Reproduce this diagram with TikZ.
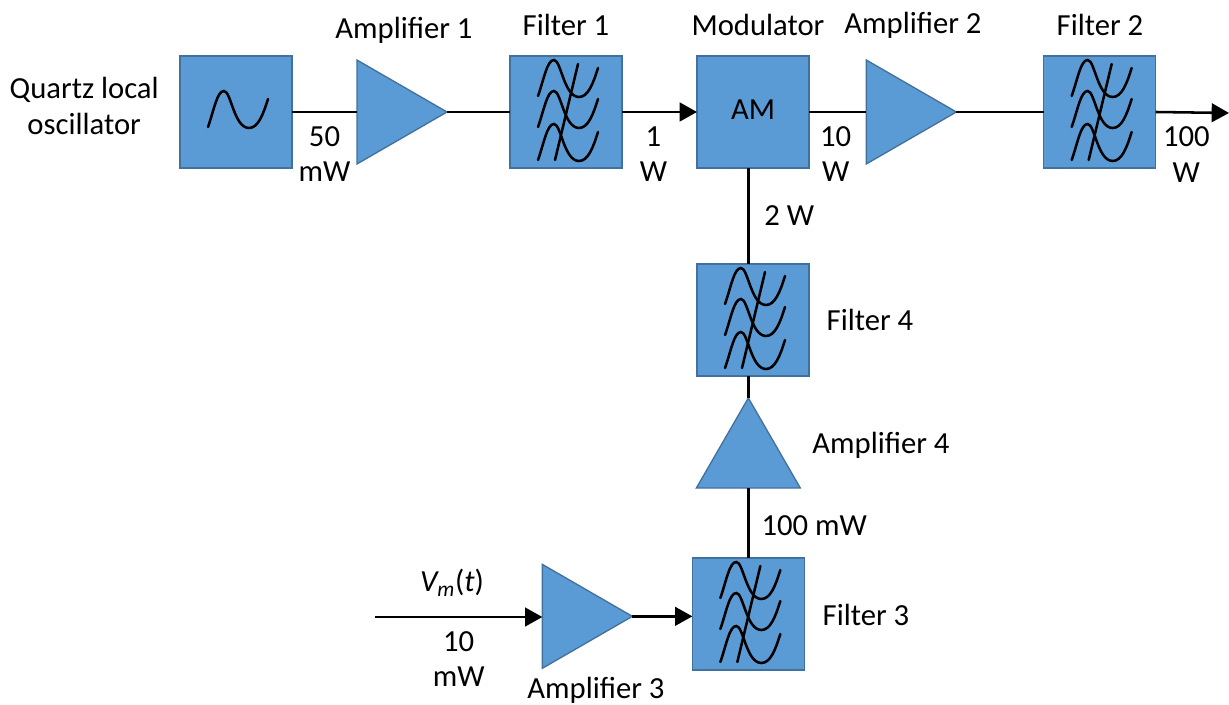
\documentclass[tikz,border=0pt]{standalone}
\usepackage{fontspec}
\setmainfont{Carlito}
\usetikzlibrary{positioning,arrows.meta,shapes.geometric}

\definecolor{boxblue}{HTML}{5B9BD5}
\definecolor{boxedge}{HTML}{41719C}

\tikzset{
  sinewave/.pic={
    \draw[line width=1.9pt, line cap=round] (-28,-15) .. controls (-22,2) and (-19,21) .. (-12,21)
        .. controls (-5,21) and (-2,-16) .. (13,-16) .. controls (22,-16) and (27,-3) .. (32,13);
  },
  filterwaves/.pic={
    \pic at (0,31) {sinewave};
    \pic at (0,0) {sinewave};
    \pic at (0,-33) {sinewave};
    \draw[line width=1.9pt, line cap=round] (12,48) -- (-11,-48);
  }
}

\begin{document}
\begin{tikzpicture}[x=0.75pt, y=0.75pt,
    blockbox/.style={rectangle, draw=boxedge, fill=boxblue, line width=1pt, minimum size=84pt, inner sep=0pt, outer sep=0pt},
    ampbox/.style={isosceles triangle, isosceles triangle apex angle=60, draw=boxedge, fill=boxblue, line width=1pt, minimum height=67.5pt, inner sep=0pt, outer sep=0pt},
    wire/.style={line width=1.9pt},
    arrowwire/.style={wire, -{Triangle[length=13pt, width=14pt]}},
    wlabel/.style={align=center, font=\fontsize{23}{26.5}\selectfont, inner sep=0pt},
  ]
    \useasboundingbox (0,0) rectangle (1229,704);
    % top row
    \node[blockbox]      (osc)     at (236,592)                {};
    \node[ampbox]        (amp1)    [right=48.75pt of osc]      {};
    \node[blockbox]      (filter1) [right=47.25pt of amp1]     {};
    \node[blockbox]      (mod)     [right=56.25pt of filter1, wlabel] {\raisebox{3pt}{AM}};
    \node[ampbox]        (amp2)    [right=43pt of mod]         {};
    \node[blockbox]      (filter2) [right=65.5pt of amp2]      {};
    % modulating branch
    \node[blockbox]      (filter4) [below=72pt of mod]         {};
    \node[ampbox, shape border rotate=90] (amp4) [below=16.5pt of filter4, xshift=-3.5pt] {};
    \node[blockbox]      (filter3) [below=52.5pt of amp4]      {};
    \node[ampbox]        (amp3)    [left=45pt of filter3, yshift=-1.75pt] {};
    % free ends
    \coordinate          (vin)     at (375,87);
    \coordinate          (out)     at (1229,591);
    % symbols
    \pic at (osc) {sinewave};
    \pic at (filter1) {filterwaves};
    \pic at (filter2) {filterwaves};
    \pic at (filter3) {filterwaves};
    \pic at (filter4) {filterwaves};
    % lines
    \draw[wire] (osc.east) -- (amp1.west |- osc.east) node[midway, below=10pt, wlabel] {50\\mW};
    \draw[wire] (amp1.apex) -- (filter1.west);
    \draw[arrowwire] (filter1.east) -- (mod.west) node[midway, below=10pt, xshift=-4.5pt, wlabel] {1\\W};
    \draw[wire] (mod.east) -- (amp2.west |- mod.east) node[midway, below=10pt, xshift=-1.5pt, wlabel] {10\\W};
    \draw[wire] (amp2.apex) -- (filter2.west);
    \draw[arrowwire] (filter2.east) -- (out) node[midway, below=10pt, xshift=-4.5pt, wlabel] {100\\W};
    \draw[wire] (mod.south -| amp4.apex) -- (filter4.north -| amp4.apex) node[midway, right=11pt, wlabel] {2 W};
    \draw[wire] (filter4.south -| amp4.apex) -- (amp4.apex);
    \draw[wire] (amp4.south) -- (filter3.north -| amp4.south) node[midway, right=9pt, yshift=-2pt, wlabel] {100 mW};
    \draw[arrowwire] (vin) -- (amp3.west |- vin) node[midway, below=10pt, wlabel] {10\\mW};
    \draw[arrowwire] (amp3.apex) -- (filter3.west |- amp3.apex);
    % labels
    \node[wlabel] (osclabel)  [left=15.75pt of osc, yshift=4.5pt] {Quartz local\\oscillator};
    \node[wlabel] (amp1label) at (404,674) {Amplifier 1};
    \node[wlabel] (fil1label) at (566,679) {Filter 1};
    \node[wlabel] (modlabel)  at (758,679) {Modulator};
    \node[wlabel] (amp2label) at (913,679) {Amplifier 2};
    \node[wlabel] (fil2label) at (1100,679) {Filter 2};
    \node[wlabel] (fil4label) at (870,384) {Filter 4};
    \node[wlabel] (amp4label) at (881,259) {Amplifier 4};
    \node[wlabel] (fil3label) at (866,89) {Filter 3};
    \node[wlabel] (amp3label) at (596,14) {Amplifier 3};
    \node[wlabel] (vmlabel)   at (452,121) {\textit{V\textsubscript{m}}(\textit{t})};
\end{tikzpicture}
\end{document}
